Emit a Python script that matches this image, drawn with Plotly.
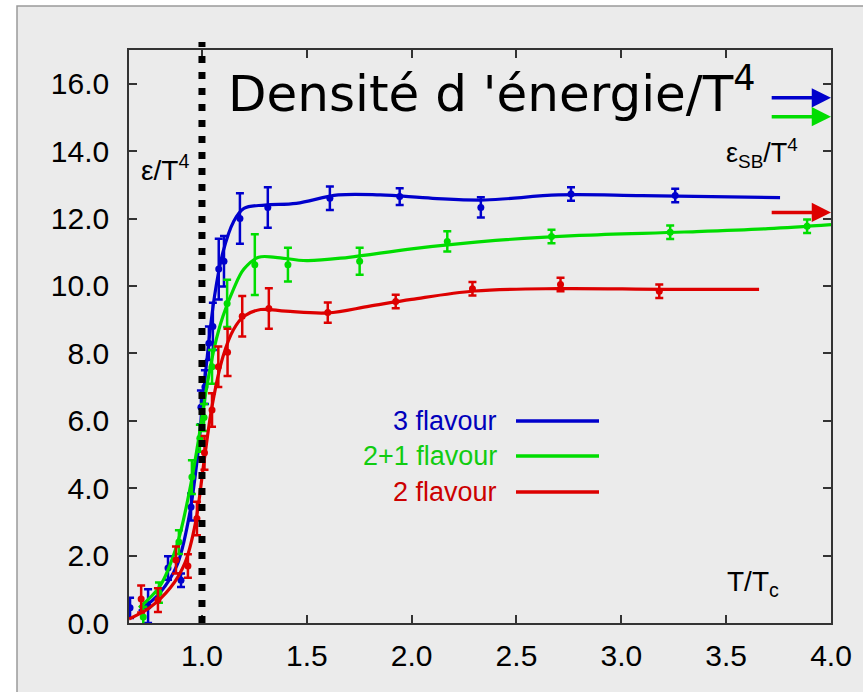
import plotly.graph_objects as go

# ---- data: 3 flavour (blue) ----
b_x = [0.657, 0.743, 0.838, 0.900, 0.948, 0.995, 1.014, 1.033, 1.052, 1.080, 1.105, 1.181, 1.314, 1.610, 1.943, 2.330, 2.760, 3.257]
b_y = [0.45, 0.50, 1.63, 1.27, 3.44, 6.4, 7.0, 8.3, 8.8, 10.5, 10.73, 12.0, 12.33, 12.6, 12.65, 12.33, 12.73, 12.68]
b_err = [0.3, 0.5, 0.35, 0.2, 0.4, 0.5, 0.5, 0.5, 0.7, 0.9, 0.75, 0.75, 0.6, 0.35, 0.25, 0.3, 0.2, 0.2]
b_fit_x = [0.70, 0.80, 0.88, 0.94, 0.98, 1.02, 1.06, 1.10, 1.15, 1.20, 1.30, 1.45, 1.65, 1.85, 2.10, 2.35, 2.70, 3.10, 3.757]
b_fit_y = [0.35, 0.9, 1.7, 3.2, 5.0, 7.6, 9.7, 11.0, 11.9, 12.3, 12.4, 12.45, 12.7, 12.7, 12.6, 12.55, 12.7, 12.68, 12.62]

# ---- data: 2+1 flavour (green) ----
g_x = [0.720, 0.795, 0.890, 0.952, 0.990, 1.010, 1.048, 1.120, 1.252, 1.410, 1.752, 2.170, 2.667, 3.233, 3.886]
g_y = [0.18, 0.9, 2.4, 4.33, 5.48, 6.1, 7.6, 9.48, 10.63, 10.63, 10.73, 11.32, 11.47, 11.59, 11.77]
g_err = [0.3, 0.3, 0.35, 0.5, 0.4, 0.4, 0.5, 0.7, 0.9, 0.5, 0.4, 0.3, 0.2, 0.2, 0.2]
g_fit_x = [0.70, 0.80, 0.88, 0.94, 0.98, 1.02, 1.06, 1.10, 1.15, 1.20, 1.27, 1.35, 1.50, 1.70, 2.00, 2.40, 2.80, 3.30, 3.70, 4.00]
g_fit_y = [0.45, 1.1, 2.3, 3.9, 5.3, 6.9, 8.2, 9.1, 9.9, 10.5, 10.85, 10.85, 10.75, 10.85, 11.1, 11.35, 11.5, 11.6, 11.7, 11.82]

# ---- data: 2 flavour (red) ----
r_x = [0.710, 0.790, 0.876, 0.933, 0.976, 1.012, 1.048, 1.078, 1.122, 1.192, 1.319, 1.600, 1.924, 2.290, 2.710, 3.181]
r_y = [0.71, 0.68, 1.87, 1.69, 3.1, 5.05, 6.32, 7.6, 8.03, 9.1, 9.33, 9.21, 9.54, 9.92, 10.04, 9.84]
r_err = [0.4, 0.35, 0.4, 0.35, 0.5, 0.5, 0.5, 0.6, 0.7, 0.6, 0.6, 0.3, 0.2, 0.2, 0.2, 0.2]
r_fit_x = [0.652, 0.75, 0.85, 0.92, 0.97, 1.01, 1.05, 1.10, 1.15, 1.20, 1.28, 1.40, 1.60, 1.80, 2.00, 2.30, 2.70, 3.20, 3.657]
r_fit_y = [0.12, 0.45, 1.05, 1.8, 3.0, 4.8, 6.5, 7.9, 8.7, 9.1, 9.3, 9.25, 9.2, 9.4, 9.6, 9.85, 9.92, 9.9, 9.9]

# Stefan-Boltzmann limits (arrows)
sb_labels = ["3 flavour", "2+1 flavour", "2 flavour"]
sb_values = [15.58, 15.02, 12.18]

x_ticks = [1.0, 1.5, 2.0, 2.5, 3.0, 3.5, 4.0]
y_ticks = [0, 2, 4, 6, 8, 10, 12, 14, 16]
tc_value = 1.0

colors = ["#0000cc", "#00dd00", "#dd0000"]
text_colors = ["#0000bb", "#11cc11", "#cc0000"]

series = [
    (b_x, b_y, b_err, b_fit_x, b_fit_y),
    (g_x, g_y, g_err, g_fit_x, g_fit_y),
    (r_x, r_y, r_err, r_fit_x, r_fit_y),
]

fig = go.Figure()
for (px, py, pe, fx, fy), c in zip(series, colors):
    fig.add_trace(go.Scatter(x=fx, y=fy, mode="lines", line=dict(color=c, width=3.2, shape="spline", smoothing=1.0),
                             showlegend=False, hoverinfo="skip"))
    fig.add_trace(go.Scatter(x=px, y=py, mode="markers", marker=dict(color=c, size=7),
                             error_y=dict(type="data", array=pe, color=c, thickness=2.5, width=4),
                             showlegend=False))

FONT = "Liberation Sans, Arial, sans-serif"
L, R, T, B = 129, 32, 50, 69
W, H = 863, 692
pw, ph = W - L - R, H - T - B

def px_x(p):
    return (p - L) / pw

def px_y(p):
    return (H - B - p) / ph

shapes = []
# outer grey frame
shapes.append(dict(type="rect", xref="paper", yref="paper", x0=px_x(17), x1=1.3, y0=-0.4, y1=px_y(6),
                   fillcolor="#ebebeb", line=dict(color="#9a9a9a", width=1.5), layer="below"))
# Tc dotted line
shapes.append(dict(type="line", xref="x", yref="paper", x0=tc_value, x1=tc_value, y0=0, y1=px_y(42),
                   line=dict(color="black", width=7, dash="7px,9px")))

annotations = []
# title
annotations.append(dict(text="Densité d 'énergie/T<sup>4</sup>", xref="paper", yref="paper",
                        x=px_x(226), y=px_y(90), xanchor="left", yanchor="middle", showarrow=False,
                        font=dict(family="DejaVu Sans", size=50, color="black")))
# axis labels
annotations.append(dict(text="ε/T<sup>4</sup>", xref="paper", yref="paper", x=px_x(165), y=px_y(168),
                        xanchor="center", yanchor="middle", showarrow=False,
                        font=dict(family=FONT, size=28, color="black")))
annotations.append(dict(text="ε<sub>SB</sub>/T<sup>4</sup>", xref="paper", yref="paper", x=px_x(762), y=px_y(153),
                        xanchor="center", yanchor="middle", showarrow=False,
                        font=dict(family=FONT, size=27, color="black")))
annotations.append(dict(text="T/T<sub>c</sub>", xref="paper", yref="paper", x=px_x(753), y=px_y(583),
                        xanchor="center", yanchor="middle", showarrow=False,
                        font=dict(family=FONT, size=28, color="black")))
# SB arrows
for v, c in zip(sb_values, colors):
    annotations.append(dict(x=4.0, y=v, ax=3.71, ay=v, xref="x", yref="y", axref="x", ayref="y", text="",
                            showarrow=True, arrowhead=2, arrowsize=1.1, arrowwidth=3.5, arrowcolor=c, standoff=0))

# legend
leg_y = [421, 456, 492]
for lab, c, tc, yy in zip(sb_labels, colors, text_colors, leg_y):
    annotations.append(dict(text=lab, xref="paper", yref="paper", x=px_x(499), y=px_y(yy),
                            xanchor="right", yanchor="middle", showarrow=False,
                            font=dict(family=FONT, size=27, color=tc)))
    shapes.append(dict(type="line", xref="paper", yref="paper", x0=px_x(516), x1=px_x(599),
                       y0=px_y(yy), y1=px_y(yy), line=dict(color=c, width=3.5)))

fig.update_layout(
    width=W, height=H,
    margin=dict(l=L, r=R, t=T, b=B),
    paper_bgcolor="white",
    plot_bgcolor="#ebebeb",
    shapes=shapes,
    annotations=annotations,
    font=dict(family=FONT, size=30, color="black"),
)
fig.update_xaxes(range=[0.652, 4.0], tickvals=x_ticks, ticktext=[f"{v:.1f}" for v in x_ticks],
                 ticks="inside", ticklen=8, tickwidth=1.5, tickcolor="#333",
                 showline=True, linecolor="#333", linewidth=1.5, mirror="ticks",
                 showgrid=False, zeroline=False, tickfont=dict(size=30, color="black"),
                 ticklabelstandoff=5)
fig.update_yaxes(range=[0, 17], tickvals=y_ticks, ticktext=[f"{v:.1f}" for v in y_ticks],
                 ticks="inside", ticklen=8, tickwidth=1.5, tickcolor="#333",
                 showline=True, linecolor="#333", linewidth=1.5, mirror="ticks",
                 showgrid=False, zeroline=False, tickfont=dict(size=30, color="black"),
                 ticklabelstandoff=12)

fig.write_html("out.html")
